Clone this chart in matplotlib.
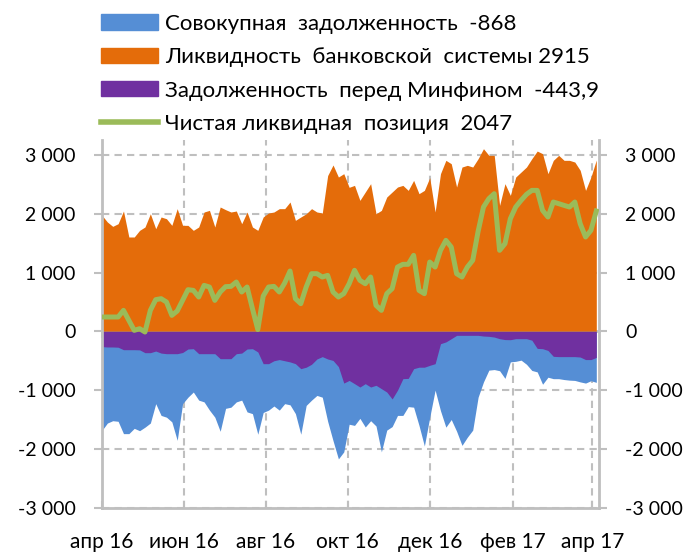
import pandas as pd
import matplotlib.pyplot as plt
from matplotlib.patches import Patch
from matplotlib.lines import Line2D

# Даты: каждые 4 дня с 1 апреля 2016
dates = pd.date_range('2016-04-01', periods=93, freq='4D')

# Ликвидность банковской системы
liquidity = [1973, 1860, 1786, 1831, 2047, 1605, 1605, 1718, 1775, 2000,
             1746, 1945, 1916, 1803, 2087, 1803, 1803, 1718, 1775, 2030,
             2058, 1775, 2115, 2070, 2030, 2047, 1831, 2030, 1775, 1718,
             1945, 2013, 2030, 2087, 2087, 2200, 1888, 1945, 2000, 2087,
             2030, 2013, 2650, 2830, 2625, 2682, 2450, 2483, 2228, 2370,
             2512, 2000, 2058, 2285, 2370, 2455, 2483, 2398, 2568, 2342,
             2398, 2614, 2030, 2682, 2909, 2852, 2455, 2795, 2824, 2795,
             2937, 3107, 2994, 2994, 2143, 2512, 2313, 2625, 2710, 2795,
             2937, 3067, 3022, 2682, 2909, 2994, 2909, 2909, 2880, 2739,
             2398, 2625, 2915]

# Чистая ликвидная позиция
net_position = [244, 244, 244, 244, 357, 187, 17, 45, -11, 357,
                539, 556, 499, 272, 346, 527, 709, 697, 584, 782,
                754, 527, 669, 760, 765, 839, 669, 754, 386, 30,
                600, 754, 765, 669, 822, 1026, 556, 471, 754, 981,
                981, 924, 952, 669, 584, 641, 810, 1038, 867, 810,
                924, 442, 357, 641, 726, 1094, 1140, 1140, 1293, 697,
                641, 1179, 1094, 1378, 1548, 1434, 981, 924, 1094, 1208,
                1700, 2115, 2257, 2342, 1378, 1491, 1916, 2115, 2228, 2330,
                2398, 2398, 2058, 1945, 2200, 2172, 2143, 2115, 2200, 1831,
                1605, 1718, 2047]

# Совокупная задолженность
total_debt = [-1684, -1560, -1520, -1530, -1740, -1740, -1650, -1690, -1630, -1560,
              -1230, -1430, -1460, -1540, -1854, -1230, -1120, -1032, -1170, -1200,
              -1340, -1460, -1700, -1310, -1290, -1200, -1170, -1370, -1400, -1750,
              -1380, -1340, -1270, -1340, -1230, -1250, -1400, -1750, -1260, -1170,
              -1090, -1120, -1530, -1860, -2170, -2050, -1580, -1600, -1480, -1627,
              -1520, -1610, -2050, -1680, -1620, -1430, -1430, -1280, -1290, -1600,
              -1950, -1460, -1000, -1350, -1630, -1500, -1700, -1940, -1800, -1680,
              -1120, -860, -660, -650, -670, -800, -520, -510, -490, -560,
              -665, -690, -900, -780, -805, -805, -820, -830, -835, -860,
              -880, -840, -868]

# Задолженность перед Минфином
minfin_debt = [-260, -266, -266, -270, -312, -312, -312, -315, -363, -363,
               -335, -370, -380, -380, -380, -360, -300, -295, -380, -380,
               -380, -380, -465, -465, -465, -380, -370, -300, -295, -350,
               -550, -550, -500, -480, -500, -520, -550, -635, -610, -560,
               -470, -430, -470, -495, -600, -880, -835, -890, -947, -890,
               -947, -918, -975, -1032, -1150, -1000, -805, -800, -635, -610,
               -610, -578, -550, -210, -180, -125, -68, -68, -68, -68,
               -68, -80, -85, -97, -125, -140, -142, -125, -125, -125,
               -150, -290, -295, -325, -425, -430, -430, -430, -430, -437,
               -480, -480, -444]

labels = ['Совокупная  задолженность  -868',
          'Ликвидность  банковской  системы 2915',
          'Задолженность  перед Минфином  -443,9',
          'Чистая ликвидная  позиция  2047']

y_ticks = [-3000, -2000, -1000, 0, 1000, 2000, 3000]
y_tick_labels = ['-3 000', '-2 000', '-1 000', '0', '1 000', '2 000', '3 000']
x_ticks = pd.to_datetime(['2016-04-01', '2016-06-01', '2016-08-01', '2016-10-01',
                          '2016-12-01', '2017-02-01', '2017-04-01'])
x_tick_labels = ['апр 16', 'июн 16', 'авг 16', 'окт 16', 'дек 16', 'фев 17', 'апр 17']

c_blue = '#558ED5'
c_orange = '#E46C0A'
c_purple = '#7030A0'
c_green = '#9BBB59'
c_grid = '#BFBFBF'
c_axis = '#BFBFBF'

plt.rcParams['font.family'] = ['Lato', 'DejaVu Sans']

fig = plt.figure(figsize=(6.94, 5.56), dpi=100)
ax = fig.add_axes([102 / 694, 48 / 556, 497 / 694, 368 / 556])

ax.fill_between(dates, 0, liquidity, color=c_orange, lw=0, zorder=2)
ax.fill_between(dates, 0, total_debt, color=c_blue, lw=0, zorder=2)
ax.fill_between(dates, 0, minfin_debt, color=c_purple, lw=0, zorder=2)
ax.plot(dates, net_position, color=c_green, lw=3.6, zorder=4,
        solid_joinstyle='round')

y0, y1 = -3005, 3255
ax.set_ylim(y0, y1)
ax.set_xlim(pd.Timestamp('2016-04-01'), pd.Timestamp('2017-04-06'))

ax.set_yticks(y_ticks)
ax.set_yticklabels(y_tick_labels)
ax.set_xticks(x_ticks)
ax.set_xticklabels(x_tick_labels)

ax.grid(True, color=c_grid, lw=1.5, linestyle=(0, (3.5, 2.5)), zorder=1)
ax.set_axisbelow(True)

ax.tick_params(axis='y', which='both', direction='out', length=6, width=1.5,
               color=c_axis, pad=13, labelsize=14, right=True, labelright=True)
ax.tick_params(axis='x', direction='in', length=5, width=1.5, color=c_axis,
               pad=17, labelsize=15)

for side in ['left', 'right', 'bottom']:
    ax.spines[side].set_color(c_axis)
    ax.spines[side].set_linewidth(2)
ax.spines['top'].set_visible(False)

# линия нуля с засечками
zero_frac = (0 - y0) / (y1 - y0)
sec = ax.secondary_xaxis(zero_frac)
sec.set_xticks(x_ticks)
sec.tick_params(direction='out', length=5, width=1.5, color=c_axis, labelbottom=False)
sec.spines['bottom'].set_color(c_axis)
sec.spines['bottom'].set_linewidth(2)

handles = [Patch(color=c_blue), Patch(color=c_orange), Patch(color=c_purple),
           Line2D([], [], color=c_green, lw=4)]
fig.legend(handles, labels, loc='upper left', bbox_to_anchor=(92 / 694, 1 - 5 / 556),
           frameon=False, fontsize=16, handlelength=2.57, handleheight=0.68,
           handletextpad=0.32, labelspacing=0.6, borderaxespad=0)

fig.savefig('out.png', dpi=100)
